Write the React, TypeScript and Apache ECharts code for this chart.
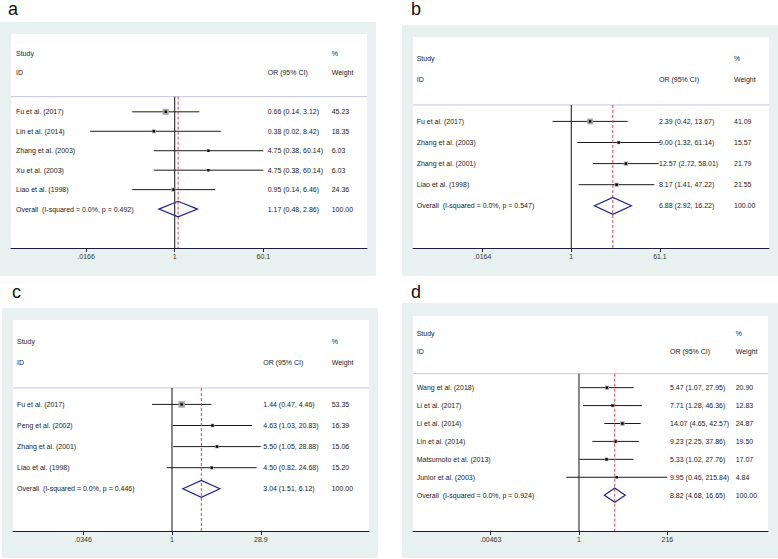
import React, { useEffect, useRef } from "react";
import * as echarts from "echarts";

const FONT = "'Liberation Sans', Arial, Helvetica, sans-serif";

// ---------- Panel a ----------
const studiesA = ["Fu et al. (2017)", "Lin et al. (2014)", "Zhang et al. (2003)", "Xu et al. (2003)", "Liao et al. (1998)"];
const orA = [0.66, 0.38, 4.75, 4.75, 0.95];
const loA = [0.14, 0.02, 0.38, 0.38, 0.14];
const hiA = [3.12, 8.42, 60.14, 60.14, 6.46];
const wA = [45.23, 18.35, 6.03, 6.03, 24.36];
const overallA = [1.17, 0.48, 2.86];
const hetA = { i2: "0.0%", p: "0.492" };
const tickLabelsA = [".0166", "1", "60.1"];
const tickValuesA = [0.0166, 1, 60.1];

// ---------- Panel b ----------
const studiesB = ["Fu et al. (2017)", "Zhang et al. (2003)", "Zhang et al. (2001)", "Liao et al. (1998)"];
const orB = [2.39, 9.0, 12.57, 8.17];
const loB = [0.42, 1.32, 2.72, 1.41];
const hiB = [13.67, 61.14, 58.01, 47.22];
const wB = [41.09, 15.57, 21.79, 21.55];
const overallB = [6.88, 2.92, 16.22];
const hetB = { i2: "0.0%", p: "0.547" };
const tickLabelsB = [".0164", "1", "61.1"];
const tickValuesB = [0.0164, 1, 61.1];

// ---------- Panel c ----------
const studiesC = ["Fu et al. (2017)", "Peng et al. (2002)", "Zhang et al. (2001)", "Liao et al. (1998)"];
const orC = [1.44, 4.63, 5.5, 4.5];
const loC = [0.47, 1.03, 1.05, 0.82];
const hiC = [4.46, 20.83, 28.88, 24.68];
const wC = [53.35, 16.39, 15.06, 15.2];
const overallC = [3.04, 1.51, 6.12];
const hetC = { i2: "0.0%", p: "0.446" };
const tickLabelsC = [".0346", "1", "28.9"];
const tickValuesC = [0.0346, 1, 28.9];

// ---------- Panel d ----------
const studiesD = ["Wang et al. (2018)", "Li et al. (2017)", "Li et al. (2014)", "Lin et al. (2014)", "Matsumoto et al. (2013)", "Junior et al. (2003)"];
const orD = [5.47, 7.71, 14.07, 9.23, 5.33, 9.95];
const loD = [1.07, 1.28, 4.65, 2.25, 1.02, 0.46];
const hiD = [27.95, 46.36, 42.57, 37.86, 27.76, 215.84];
const wD = [20.9, 12.83, 24.87, 19.5, 17.07, 4.84];
const overallD = [8.82, 4.68, 16.65];
const hetD = { i2: "0.0%", p: "0.924" };
const tickLabelsD = [".00463", "1", "216"];
const tickValuesD = [0.00463, 1, 216];

const panels = [
  {
    label: "a", studies: studiesA, or: orA, lo: loA, hi: hiA, w: wA, overall: overallA, het: hetA,
    tickLabels: tickLabelsA, tickValues: tickValuesA,
    grid: { left: 11, top: 34, width: 356, height: 214 }, xRange: [-7.57, 8.89],
    cols: [5, 256.7, 320.7], bg: { x: 0, y: 22, w: 376, h: 254 }, labelPos: [8, 9],
  },
  {
    label: "b", studies: studiesB, or: orB, lo: loB, hi: hiB, w: wB, overall: overallB, het: hetB,
    tickLabels: tickLabelsB, tickValues: tickValuesB,
    grid: { left: 413, top: 37, width: 356, height: 211 }, xRange: [-7.34, 9.17],
    cols: [3.7, 246, 321], bg: { x: 402, y: 25, w: 376, h: 251 }, labelPos: [411, 9],
  },
  {
    label: "c", studies: studiesC, or: orC, lo: loC, hi: hiC, w: wC, overall: overallC, het: hetC,
    tickLabels: tickLabelsC, tickValues: tickValuesC,
    grid: { left: 13, top: 320, width: 356, height: 211 }, xRange: [-6.02, 7.46],
    cols: [4, 250.3, 318.7], bg: { x: 2, y: 308, w: 376, h: 250 }, labelPos: [12, 292],
  },
  {
    label: "d", studies: studiesD, or: orD, lo: loD, hi: hiD, w: wD, overall: overallD, het: hetD,
    tickLabels: tickLabelsD, tickValues: tickValuesD,
    grid: { left: 413, top: 316, width: 355, height: 215 }, xRange: [-10.1, 11.5],
    cols: [3.7, 257, 322.7], bg: { x: 402, y: 303, w: 376, h: 255 }, labelPos: [411, 292],
  },
];

const SEP_ROW = -0.78;
const BOX_SCALE = 0.9;
const TEXT_COLOR = "#222";
const AXIS_COLOR = "#1c1c3c";

function buildOption() {
  const grids: any[] = [];
  const xAxes: any[] = [];
  const yAxes: any[] = [];
  const series: any[] = [];
  const graphics: any[] = [];

  panels.forEach((p, gi) => {
    const n = p.studies.length;
    const yMax = n + 2;
    graphics.push({
      type: "rect", z: -10, silent: true,
      shape: { x: p.bg.x, y: p.bg.y, width: p.bg.w, height: p.bg.h },
      style: { fill: "#e8f1f0" },
    });
    graphics.push({
      type: "text", x: p.labelPos[0], y: p.labelPos[1],
      style: { text: p.label, fontSize: 18, fontFamily: FONT, fill: "#111", verticalAlign: "middle", align: "left" },
    });

    grids.push({
      left: p.grid.left, top: p.grid.top, width: p.grid.width, height: p.grid.height,
      show: true, backgroundColor: "#ffffff", borderWidth: 0, containLabel: false,
    });

    const lnTicks = p.tickValues.map((v) => Math.log(v));
    const fmt = (v: number) => {
      for (let i = 0; i < lnTicks.length; i++) {
        if (Math.abs(lnTicks[i] - v) < 1e-6) return p.tickLabels[i];
      }
      return "";
    };
    xAxes.push({
      gridIndex: gi, type: "value", min: p.xRange[0], max: p.xRange[1], position: "bottom",
      axisLine: { show: true, onZero: false, lineStyle: { color: AXIS_COLOR, width: 1 } },
      axisTick: { show: true, customValues: lnTicks, length: 4, lineStyle: { color: AXIS_COLOR } },
      axisLabel: { show: true, customValues: lnTicks, formatter: fmt, fontSize: 7, fontFamily: FONT, color: "#333", margin: 5 },
      splitLine: { show: false },
    });
    yAxes.push({ gridIndex: gi, type: "value", min: -4, max: yMax, inverse: true, show: false });

    // header separator
    series.push({
      type: "line", xAxisIndex: gi, yAxisIndex: gi, symbol: "none", silent: true, z: 1,
      data: [[p.xRange[0], SEP_ROW], [p.xRange[1], SEP_ROW]],
      lineStyle: { color: "#c6c6dc", width: 1 },
    });
    // null line at OR = 1
    series.push({
      type: "line", xAxisIndex: gi, yAxisIndex: gi, symbol: "none", silent: true, z: 2,
      data: [[0, SEP_ROW], [0, yMax]],
      lineStyle: { color: "#111", width: 1 },
    });
    // overall estimate dashed line
    const lnOverall = Math.log(p.overall[0]);
    series.push({
      type: "line", xAxisIndex: gi, yAxisIndex: gi, symbol: "none", silent: true, z: 4,
      data: [[lnOverall, SEP_ROW], [lnOverall, yMax]],
      lineStyle: { color: "#d4454f", width: 1, type: [3, 2] },
    });
    // studies
    series.push({
      type: "custom", xAxisIndex: gi, yAxisIndex: gi, silent: true, z: 3,
      data: p.studies.map((_, i) => [Math.log(p.or[i]), Math.log(p.lo[i]), Math.log(p.hi[i]), i, p.w[i]]),
      renderItem: (params: any, api: any) => {
        const row = api.value(3);
        const a = api.coord([api.value(1), row]);
        const b = api.coord([api.value(2), row]);
        const c = api.coord([api.value(0), row]);
        const side = BOX_SCALE * Math.sqrt(api.value(4));
        return {
          type: "group",
          children: [
            { type: "line", shape: { x1: a[0], y1: a[1], x2: b[0], y2: b[1] }, style: { stroke: "#1a1a1a", lineWidth: 1 } },
            { type: "rect", shape: { x: c[0] - side / 2, y: c[1] - side / 2, width: side, height: side }, style: { fill: "#a4a4a4" } },
            { type: "rect", shape: { x: c[0] - 1.2, y: c[1] - 1.2, width: 2.4, height: 2.4 }, style: { fill: "#000" } },
          ],
        };
      },
    });
    // overall diamond
    series.push({
      type: "custom", xAxisIndex: gi, yAxisIndex: gi, silent: true, z: 5,
      data: [[Math.log(p.overall[0]), Math.log(p.overall[1]), Math.log(p.overall[2]), n]],
      renderItem: (params: any, api: any) => {
        const row = api.value(3);
        const pts = [
          api.coord([api.value(1), row]),
          api.coord([api.value(0), row - 0.4]),
          api.coord([api.value(2), row]),
          api.coord([api.value(0), row + 0.4]),
        ];
        return { type: "polygon", shape: { points: pts }, style: { fill: "none", stroke: "#1e2288", lineWidth: 1.2 } };
      },
    });
    // text table
    const fmtCI = (o: number, l: number, h: number) => `${o.toFixed(2)} (${l.toFixed(2)}, ${h.toFixed(2)})`;
    const rows: { row: number; cols: string[] }[] = [
      { row: -3, cols: ["Study", "", "%"] },
      { row: -2, cols: ["ID", "OR (95% CI)", "Weight"] },
      ...p.studies.map((s, i) => ({ row: i, cols: [s, fmtCI(p.or[i], p.lo[i], p.hi[i]), p.w[i].toFixed(2)] })),
      { row: n, cols: [`Overall  (I-squared = ${p.het.i2}, p = ${p.het.p})`, fmtCI(p.overall[0], p.overall[1], p.overall[2]), (100).toFixed(2)] },
    ];
    series.push({
      type: "custom", xAxisIndex: gi, yAxisIndex: gi, silent: true, z: 6,
      data: rows.map((r) => [0, r.row]),
      renderItem: (params: any, api: any) => {
        const r = rows[params.dataIndex];
        const y = api.coord([0, api.value(1)])[1];
        const x0 = params.coordSys.x;
        return {
          type: "group",
          children: r.cols.filter((t) => t !== "").map((t) => {
            const ci = r.cols.indexOf(t);
            return {
              type: "text", x: x0 + p.cols[ci], y,
              style: { text: t, fontSize: 7, fontFamily: FONT, fill: TEXT_COLOR, align: "left", verticalAlign: "middle" },
            };
          }),
        };
      },
    });
  });

  return {
    animation: false,
    backgroundColor: "#ffffff",
    graphic: graphics,
    grid: grids,
    xAxis: xAxes,
    yAxis: yAxes,
    series,
  };
}

export default function App() {
  const ref = useRef<HTMLDivElement>(null);
  useEffect(() => {
    document.body.style.margin = "0";
    if (!ref.current) return;
    const chart = echarts.init(ref.current, undefined, { renderer: "svg" });
    chart.setOption(buildOption() as any);
    return () => chart.dispose();
  }, []);
  return <div ref={ref} style={{ position: "absolute", left: 0, top: 0, width: 778, height: 559 }} />;
}
